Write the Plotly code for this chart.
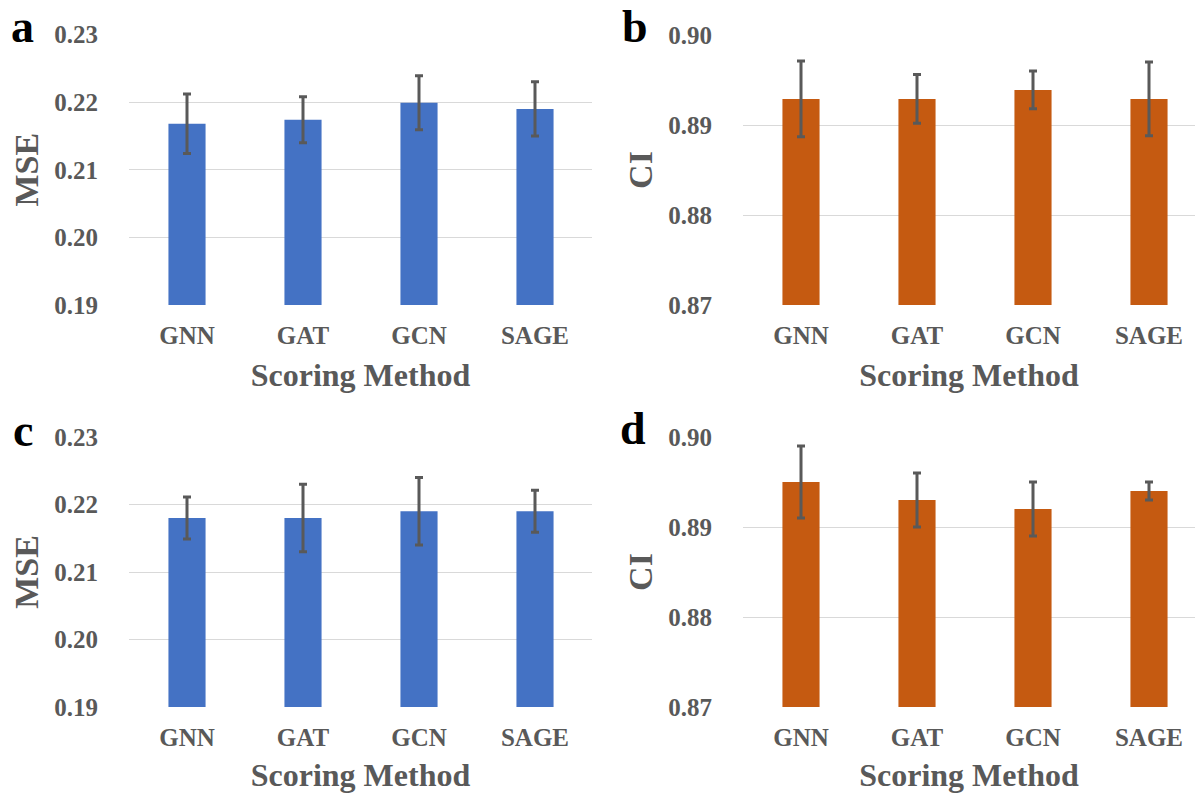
import plotly.graph_objects as go

W, H = 1195, 793

methods = ["GNN", "GAT", "GCN", "SAGE"]

mse_a = [0.2168, 0.2174, 0.2199, 0.2190]
mse_a_err = [0.0044, 0.0034, 0.0040, 0.0040]
ci_b = [0.8929, 0.8929, 0.8939, 0.8929]
ci_b_err = [0.0042, 0.0027, 0.0021, 0.0041]
mse_c = [0.2180, 0.2180, 0.2190, 0.2190]
mse_c_err = [0.0031, 0.0050, 0.0050, 0.0031]
ci_d = [0.8950, 0.8930, 0.8920, 0.8940]
ci_d_err = [0.0040, 0.0030, 0.0030, 0.0010]

mse_ticks = [0.19, 0.20, 0.21, 0.22, 0.23]
ci_ticks = [0.87, 0.88, 0.89, 0.90]

BLUE = "#4472C4"
ORANGE = "#C55A11"
GREY = "#595959"
FONT = "Liberation Serif"

def px_x(a, b):
    return [a / W, min(b / W, 1.0)]

def px_y(top, bottom):
    return [1 - bottom / H, 1 - top / H]

panels = [
    (mse_a, mse_a_err, BLUE, "MSE", mse_ticks, px_x(129, 592), px_y(34.5, 305), "a", (22, 27)),
    (ci_b, ci_b_err, ORANGE, "CI", ci_ticks, px_x(743, 1195), px_y(35, 305), "b", (635, 27)),
    (mse_c, mse_c_err, BLUE, "MSE", mse_ticks, px_x(129, 592), px_y(437, 707), "c", (23, 430)),
    (ci_d, ci_d_err, ORANGE, "CI", ci_ticks, px_x(743, 1195), px_y(437, 707), "d", (633, 428)),
]

fig = go.Figure()
annotations = []
for i, (vals, errs, color, ytitle, ticks, xd, yd, letter, lpos) in enumerate(panels):
    n = i + 1
    xa = "x" if n == 1 else f"x{n}"
    ya = "y" if n == 1 else f"y{n}"
    fig.add_trace(go.Bar(
        x=methods, y=vals, marker_color=color, marker_line_width=0,
        error_y=dict(type="data", array=errs, visible=True, color=GREY,
                     thickness=3, width=4),
        xaxis=xa, yaxis=ya, showlegend=False,
    ))
    width_px = (xd[1] - xd[0]) * W
    span = width_px / 116.0
    xkey = "xaxis" if n == 1 else f"xaxis{n}"
    ykey = "yaxis" if n == 1 else f"yaxis{n}"
    fig.layout[xkey] = dict(
        domain=xd, anchor=ya, range=[-0.5, -0.5 + span],
        showgrid=False, zeroline=False, showline=False, automargin=False,
        ticks="", ticklabelstandoff=13,
        tickfont=dict(family=FONT, size=25, color=GREY, weight="bold"),
        title=dict(text="Scoring Method", standoff=15,
                   font=dict(family=FONT, size=32, color=GREY, weight="bold")),
        fixedrange=True,
    )
    fig.layout[ykey] = dict(
        domain=yd, anchor=xa, range=[ticks[0], ticks[-1]],
        tickvals=ticks, tickformat=".2f",
        showgrid=True, gridcolor="#D9D9D9", gridwidth=1,
        zeroline=False, showline=False, ticks="", ticklabelstandoff=30,
        automargin=False,
        tickfont=dict(family=FONT, size=25, color=GREY, weight="bold"),
        title=dict(text=ytitle, standoff=5,
                   font=dict(family=FONT, size=34, color=GREY, weight="bold")),
        fixedrange=True,
    )
    annotations.append(dict(
        text=letter, xref="paper", yref="paper",
        x=lpos[0] / W, y=1 - lpos[1] / H, xanchor="center", yanchor="middle",
        showarrow=False, font=dict(family=FONT, size=46, color="black", weight="bold"),
    ))

fig.update_layout(
    template="none",
    width=W, height=H, margin=dict(l=0, r=0, t=0, b=0, pad=0),
    paper_bgcolor="white", plot_bgcolor="white",
    bargap=0.68, annotations=annotations,
)

fig.write_html(
    "out.html",
    config={"displayModeBar": False},
    post_script="document.body.style.margin='0';document.body.style.padding='0';"
                "document.documentElement.style.overflow='hidden';",
)
